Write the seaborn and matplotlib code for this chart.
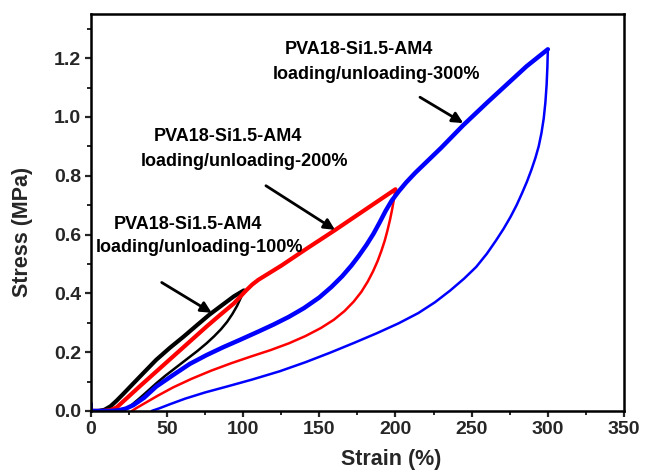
import matplotlib
matplotlib.use("Agg")
import matplotlib.pyplot as plt
import seaborn as sns
import pandas as pd
from matplotlib.ticker import MultipleLocator

# ---------------- data ----------------
# Cycle 1: loading/unloading to 100 %
black_load_x = [0, 5, 9, 13, 17, 21, 26, 34, 43, 52, 61, 70, 78, 87, 94, 100.5]
black_load_y = [0, 0, 0.004, 0.016, 0.035, 0.056, 0.083, 0.126, 0.174, 0.215, 0.253, 0.293, 0.328, 0.363, 0.39, 0.41]
black_unload_x = [100.5, 98.5, 96, 93, 89.5, 85.5, 81, 76, 70, 63, 56, 49, 43, 37, 32, 27, 23, 20]
black_unload_y = [0.41, 0.385, 0.357, 0.33, 0.303, 0.278, 0.254, 0.23, 0.204, 0.176, 0.148, 0.12, 0.094, 0.066, 0.043, 0.021, 0.007, 0]

# Cycle 2: loading/unloading to 200 %
red_load_x = [0, 8, 13, 17, 24, 32, 43, 54, 65, 76, 85, 94, 98, 102, 106, 110, 115, 125, 142, 160, 180, 200]
red_load_y = [0, 0, 0.003, 0.012, 0.045, 0.083, 0.134, 0.185, 0.236, 0.287, 0.327, 0.366, 0.388, 0.41, 0.43, 0.446, 0.462, 0.494, 0.553, 0.614, 0.684, 0.754]
red_unload_x = [200, 199, 197.8, 196.4, 194.8, 193, 190.8, 188.3, 185.3, 181.8, 177.6, 172.6, 166.6, 159.5, 151, 141, 130, 118, 105, 92, 79, 66, 54, 44, 36, 30, 27]
red_unload_y = [0.754, 0.72, 0.685, 0.65, 0.615, 0.58, 0.545, 0.51, 0.475, 0.44, 0.405, 0.372, 0.34, 0.31, 0.282, 0.255, 0.23, 0.207, 0.185, 0.162, 0.137, 0.109, 0.08, 0.052, 0.028, 0.01, 0]

# Cycle 3: loading/unloading to 300 %
blue_load_x = [0, 0, 12, 18, 23, 28, 35, 43, 54, 65, 76, 87, 98, 110, 120, 130, 140, 150, 158, 165, 171, 176, 181, 185.5, 189.5, 193.5, 197.5, 202, 207, 213, 220, 230, 244.5, 260, 273, 286, 300]
blue_load_y = [0.025, 0, 0, 0.002, 0.008, 0.02, 0.045, 0.083, 0.122, 0.16, 0.19, 0.217, 0.242, 0.27, 0.294, 0.32, 0.35, 0.386, 0.422, 0.458, 0.494, 0.528, 0.565, 0.602, 0.64, 0.68, 0.715, 0.746, 0.777, 0.81, 0.845, 0.895, 0.972, 1.048, 1.11, 1.172, 1.23]
blue_unload_x = [300, 299.7, 299.2, 298.4, 297.3, 295.8, 294, 291.8, 289.2, 286.3, 283, 279.5, 275.5, 271, 266, 260, 253, 245, 236, 226, 215, 202, 188, 173, 157, 141, 124, 106, 90, 75, 62, 52, 45, 41, 40]
blue_unload_y = [1.23, 1.17, 1.11, 1.05, 0.995, 0.945, 0.9, 0.86, 0.82, 0.78, 0.74, 0.70, 0.66, 0.62, 0.58, 0.535, 0.49, 0.45, 0.41, 0.37, 0.333, 0.298, 0.265, 0.232, 0.198, 0.166, 0.135, 0.107, 0.084, 0.063, 0.042, 0.023, 0.009, 0.002, 0]

labels_line1 = ["PVA18-Si1.5-AM4", "PVA18-Si1.5-AM4", "PVA18-Si1.5-AM4"]
labels_line2 = ["loading/unloading-100%", "loading/unloading-200%", "loading/unloading-300%"]

# ---------------- styling ----------------
sns.set_style("ticks")
plt.rcParams["font.family"] = ["Liberation Sans", "DejaVu Sans"]
plt.rcParams["font.weight"] = "bold"

fig = plt.figure(figsize=(6.46, 4.73), dpi=100)
ax = fig.add_axes([0.1404, 0.1311, 0.8256, 0.8393])

def seg(x, y):
    return pd.DataFrame({"strain": x, "stress": y})

curves = [
    (black_load_x, black_load_y, "black", 3.0),
    (black_unload_x, black_unload_y, "black", 1.8),
    (red_load_x, red_load_y, "#ff0000", 3.0),
    (red_unload_x, red_unload_y, "#ff0000", 1.8),
    (blue_load_x, blue_load_y, "#0000ff", 3.2),
    (blue_unload_x, blue_unload_y, "#0000ff", 1.8),
]
for x, y, c, lw in curves:
    sns.lineplot(data=seg(x, y), x="strain", y="stress", sort=False,
                 estimator=None, color=c, linewidth=lw, ax=ax)
for line in ax.get_lines():
    line.set_solid_joinstyle("round")
    line.set_solid_capstyle("round")

ax.set_xlim(0, 350)
ax.set_ylim(0, 1.35)
ax.xaxis.set_major_locator(MultipleLocator(50))
ax.xaxis.set_minor_locator(MultipleLocator(25))
ax.yaxis.set_major_locator(MultipleLocator(0.2))
ax.yaxis.set_minor_locator(MultipleLocator(0.1))
ax.yaxis.set_major_formatter(plt.FormatStrFormatter("%.1f"))

for s in ax.spines.values():
    s.set_visible(True)
    s.set_linewidth(1.8)
    s.set_color("black")

ax.tick_params(which="major", direction="out", length=4.5, width=1.6,
               labelsize=14, pad=2.5, top=False, right=False)
ax.tick_params(which="minor", direction="out", length=2.8, width=1.4,
               top=False, right=False)
for lab in ax.get_xticklabels() + ax.get_yticklabels():
    lab.set_fontweight("bold")

ax.set_xlabel("Strain (%)", fontsize=15.5, fontweight="bold")
ax.set_ylabel("Stress (MPa)", fontsize=15.5, fontweight="bold")
ax.xaxis.set_label_coords(0.564, -0.097)
ax.yaxis.set_label_coords(-0.108, 0.451)

# annotations
txt = dict(fontsize=13, fontweight="bold", color="black", ha="right", va="center")
ax.text(112.2, 0.633, labels_line1[0], **txt)
ax.text(139.3, 0.555, labels_line2[0], **txt)
ax.text(138.5, 0.933, labels_line1[1], **txt)
ax.text(168.8, 0.848, labels_line2[1], **txt)
ax.text(224.6, 1.228, labels_line1[2], **txt)
ax.text(255.5, 1.143, labels_line2[2], **txt)

arr = dict(arrowstyle="-|>", color="black", lw=2.0, mutation_scale=16,
           shrinkA=0, shrinkB=0)
ax.annotate("", xy=(79.4, 0.334), xytext=(46.6, 0.437), arrowprops=arr)
ax.annotate("", xy=(160.3, 0.616), xytext=(115.0, 0.766), arrowprops=arr)
ax.annotate("", xy=(244.5, 0.979), xytext=(216.1, 1.067), arrowprops=arr)

fig.savefig("out.png", dpi=100)
